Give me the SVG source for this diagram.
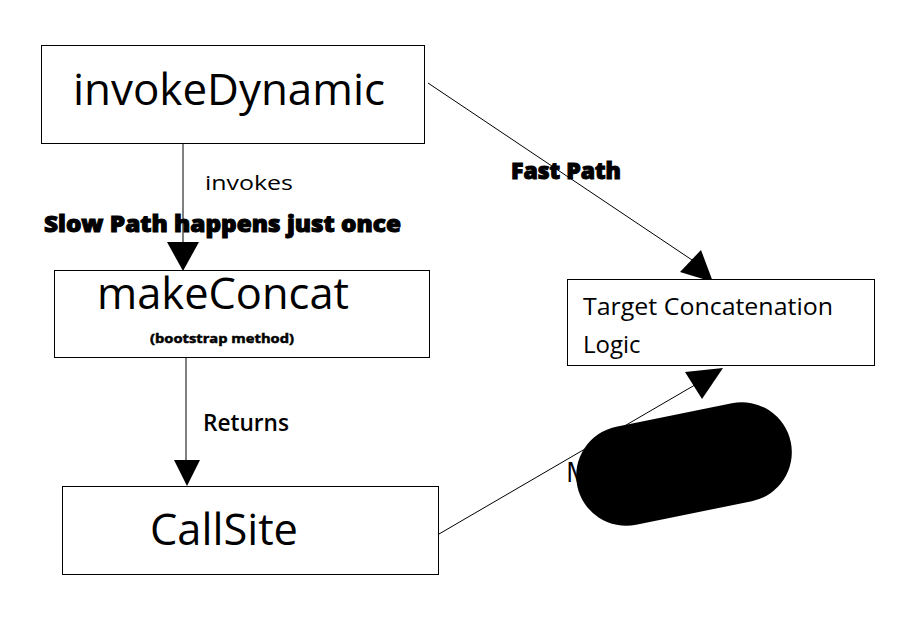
<svg xmlns="http://www.w3.org/2000/svg" width="906" height="629" viewBox="0 0 906 629">
<style>
.box{fill:#fff;stroke:#000;stroke-width:1}
.ln{fill:none;stroke:#000;stroke-width:1}
.ah{fill:#000;stroke:none}
text{font-family:"Open Sans","Noto Sans","Liberation Sans",sans-serif;fill:#000}
.big{font-size:44px;font-weight:500}
.lbl{font-size:20px}
.hv{font-weight:800;stroke:#000;stroke-width:1}
</style>
<rect width="906" height="629" fill="#fff"/>
<g id="connectors">
<line class="ln" x1="183" y1="143" x2="183" y2="255"/>
<polygon class="ah" points="167,242 199,242 183,271"/>
<line class="ln" x1="186" y1="357" x2="186" y2="470"/>
<polygon class="ah" points="174,460 200,460 187,486"/>
<line class="ln" x1="428" y1="83" x2="698" y2="264"/>
<polygon class="ah" points="701,250 680,272 713,282"/>
<line class="ln" x1="439" y1="534" x2="712" y2="375"/>
<polygon class="ah" points="685,372 723,368 702,399"/>
<text class="lbl" x="205" y="190" textLength="88" lengthAdjust="spacingAndGlyphs">invokes</text>
<text class="hv" x="44" y="232" font-size="22" textLength="357" lengthAdjust="spacingAndGlyphs">Slow Path happens just once</text>
<text class="hv" x="511" y="179" font-size="22" textLength="110" lengthAdjust="spacingAndGlyphs">Fast Path</text>
<text x="203" y="431" font-size="23" font-weight="600" textLength="86" lengthAdjust="spacingAndGlyphs">Returns</text>
</g>
<g id="invokeDynamic">
<rect class="box" x="41.5" y="45.5" width="383" height="98"/>
<text class="big" x="73" y="105" textLength="312" lengthAdjust="spacingAndGlyphs">invokeDynamic</text>
</g>
<g id="makeConcat">
<rect class="box" x="54.5" y="270.5" width="375" height="87"/>
<text class="big" x="97" y="309" textLength="252" lengthAdjust="spacingAndGlyphs">makeConcat</text>
<text x="150" y="343" font-size="13" font-weight="700" textLength="144" lengthAdjust="spacingAndGlyphs" stroke="#000" stroke-width="0.5">(bootstrap method)</text>
</g>
<g id="CallSite">
<rect class="box" x="62.5" y="486.5" width="376" height="88"/>
<text class="big" x="150" y="545" font-weight="600" textLength="148" lengthAdjust="spacingAndGlyphs">CallSite</text>
</g>
<g id="target">
<rect class="box" x="567.5" y="279.5" width="307" height="86"/>
<text x="583" y="315" font-size="24" font-weight="500" textLength="250" lengthAdjust="spacingAndGlyphs">Target Concatenation</text>
<text x="583" y="353" font-size="24" font-weight="500">Logic</text>
</g>
<g id="methodHandle">
<rect x="575" y="414" width="218" height="100" rx="50" ry="50" fill="#000" transform="rotate(-11.5 684 464)"/>
<text x="566" y="482" font-size="27" textLength="189" lengthAdjust="spacingAndGlyphs">MethodHandle</text>
</g>
</svg>
